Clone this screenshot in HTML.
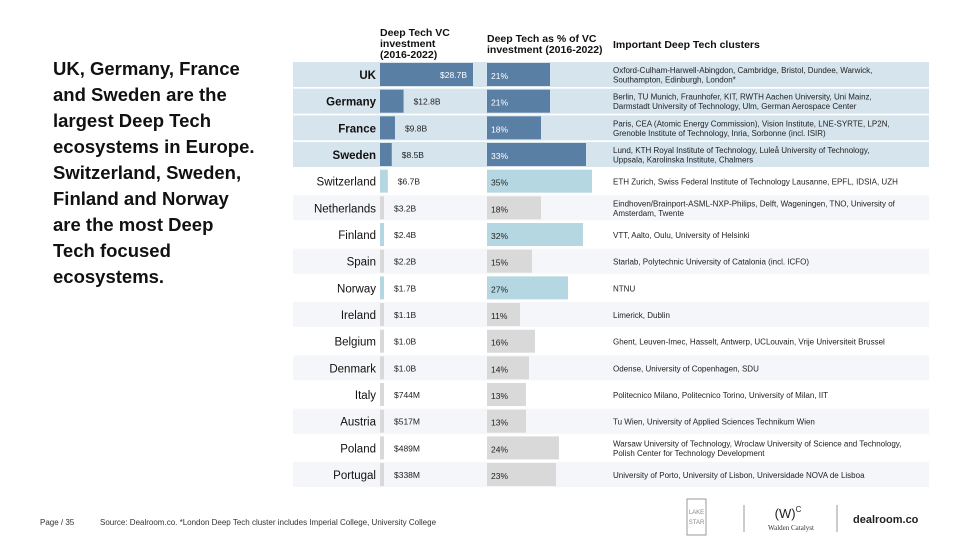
<!DOCTYPE html>
<html><head><meta charset="utf-8"><style>
body{margin:0;width:960px;height:540px;background:#fff;overflow:hidden;font-family:"Liberation Sans",sans-serif}
#title{position:absolute;left:53px;top:56px;width:206px;font-size:18.5px;font-weight:bold;line-height:26px;color:#111}
svg{position:absolute;left:0;top:0}
</style></head><body>
<div id="title">UK, Germany, France and Sweden are the largest Deep Tech ecosystems in Europe. Switzerland, Sweden, Finland and Norway are the most Deep Tech focused ecosystems.</div>
<svg id="chart" width="960" height="540">
<g id="hdr" font-size="10.5" font-weight="bold" fill="#111">
<text x="380" y="36"><tspan x="380">Deep Tech VC</tspan><tspan x="380" dy="11">investment</tspan><tspan x="380" dy="11">(2016-2022)</tspan></text>
<text x="487" y="42"><tspan x="487">Deep Tech as % of VC</tspan><tspan x="487" dy="11">investment (2016-2022)</tspan></text>
<text x="613" y="48">Important Deep Tech clusters</text>
</g>
<g id="rows"></g>
<g font-size="8" fill="#333">
<text x="40" y="525">Page / 35</text>
<text x="100" y="525">Source: Dealroom.co. *London Deep Tech cluster includes Imperial College, University College</text>
</g>
<g><rect x="687" y="499" width="19" height="36" fill="none" stroke="#999"/><text x="696.5" y="514" font-size="6" fill="#888" text-anchor="middle">LAKE</text><text x="696.5" y="524" font-size="6" fill="#888" text-anchor="middle">STAR</text></g>
<line x1="744" y1="505" x2="744" y2="532" stroke="#999"/>
<g><text x="788" y="518" font-size="13" text-anchor="middle" fill="#222">(W)<tspan font-size="8" dy="-6">C</tspan></text><text x="791" y="530" font-size="7" font-family="Liberation Serif,serif" text-anchor="middle" fill="#333">Walden Catalyst</text></g>
<line x1="837" y1="505" x2="837" y2="532" stroke="#999"/>
<text x="853" y="523" font-size="11" font-weight="bold" fill="#222">dealroom.co</text>
</svg>
<script>
const countries=["UK","Germany","France","Sweden","Switzerland","Netherlands","Finland","Spain","Norway","Ireland","Belgium","Denmark","Italy","Austria","Poland","Portugal"];
const invest=[28.7,12.8,9.8,8.5,6.7,3.2,2.4,2.2,1.7,1.1,1.0,1.0,0.744,0.517,0.489,0.338];
const investLabels=["$28.7B","$12.8B","$9.8B","$8.5B","$6.7B","$3.2B","$2.4B","$2.2B","$1.7B","$1.1B","$1.0B","$1.0B","$744M","$517M","$489M","$338M"];
const share=[21,21,18,33,35,18,32,15,27,11,16,14,13,13,24,23];
const group=["top","top","top","top","focus","other","focus","other","focus","other","other","other","other","other","other","other"];
const clusters=[["Oxford-Culham-Harwell-Abingdon, Cambridge, Bristol, Dundee, Warwick,","Southampton, Edinburgh, London*"],["Berlin, TU Munich, Fraunhofer, KIT, RWTH Aachen University, Uni Mainz,","Darmstadt University of Technology, Ulm, German Aerospace Center"],["Paris, CEA (Atomic Energy Commission), Vision Institute, LNE-SYRTE, LP2N,","Grenoble Institute of Technology, Inria, Sorbonne (incl. ISIR)"],["Lund, KTH Royal Institute of Technology, Luleå University of Technology,","Uppsala, Karolinska Institute, Chalmers"],["ETH Zurich, Swiss Federal Institute of Technology Lausanne, EPFL, IDSIA, UZH"],["Eindhoven/Brainport-ASML-NXP-Philips, Delft, Wageningen, TNO, University of","Amsterdam, Twente"],["VTT, Aalto, Oulu, University of Helsinki"],["Starlab, Polytechnic University of Catalonia (incl. ICFO)"],["NTNU"],["Limerick, Dublin"],["Ghent, Leuven-Imec, Hasselt, Antwerp, UCLouvain, Vrije Universiteit Brussel"],["Odense, University of Copenhagen, SDU"],["Politecnico Milano, Politecnico Torino, University of Milan, IIT"],["Tu Wien, University of Applied Sciences Technikum Wien"],["Warsaw University of Technology, Wroclaw University of Science and Technology,","Polish Center for Technology Development"],["University of Porto, University of Lisbon, Universidade NOVA de Lisboa"]];
const NS="http://www.w3.org/2000/svg";
const y0=62,pitch=26.67,rh=25;
const yRow=i=>y0+i*pitch;
const xInv=v=>Math.max(4,93*Math.pow(v/28.7,1.7));
const xShare=v=>v*3.0;
const fills={top:"#5a7fa5",focus:"#b4d7e1",other:"#d9d9d9"};
const g=document.getElementById('rows');
function mk(t,a){const e=document.createElementNS(NS,t);for(const k in a)e.setAttribute(k,a[k]);g.appendChild(e);return e;}
countries.forEach((c,i)=>{
 const y=yRow(i),top=group[i]==="top";
 const bg=top?"#d6e4ee":(i%2?"#f4f6f9":"#ffffff");
 const r=mk('rect',{x:293,y:y,width:636,height:rh,fill:bg});
 
 
 const lab=mk('text',{x:376,y:y+17,'text-anchor':'end','font-size':11.5,'font-weight':top?'bold':'normal',fill:'#111'});
 lab.textContent=c;
 
 
 const w=xInv(invest[i]);
 const b=mk('rect',{x:380,y:y+1,width:w,height:rh-2,fill:fills[group[i]]});
 
 
 const inside=w>60;
 const vl=mk('text',{x:inside?380+w-6:380+w+10,y:y+16,'text-anchor':inside?'end':'start','font-size':8.5,fill:inside?'#fff':'#222'});
 vl.textContent=investLabels[i];
 
 
 const s=mk('rect',{x:487,y:y+1,width:xShare(share[i]),height:rh-2,fill:fills[group[i]]});
 
 
 const sl=mk('text',{x:491,y:y+17,'font-size':8.5,fill:top?'#fff':'#222'});
 sl.textContent=share[i]+"%";
 
 
 const lines=clusters[i];
 const ct=mk('text',{x:613,y:lines.length>1?y+11:y+16,'font-size':8,fill:'#222'});
 
 
 lines.forEach((l,j)=>{const t=document.createElementNS(NS,'tspan');t.setAttribute('x',613);if(j)t.setAttribute('dy',9.5);t.textContent=l;ct.appendChild(t);});
});
</script>
</body></html>
